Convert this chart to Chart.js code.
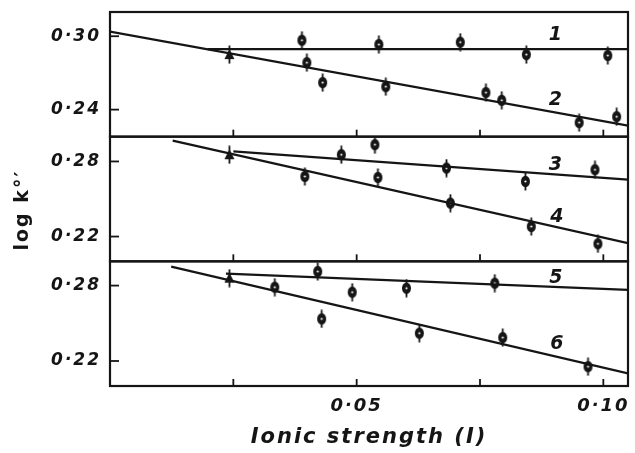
<!DOCTYPE html>
<html><head><meta charset="utf-8">
<script src="https://cdn.jsdelivr.net/npm/chart.js@4/dist/chart.umd.min.js"></script>
<style>html,body{margin:0;padding:0;background:#fff}#wrap{width:635px;height:453px;position:relative}</style>
</head><body><div id="wrap"><canvas id="c"></canvas></div>
<script>
// ---- data ----
const xTicks = [0.025, 0.05, 0.075, 0.10];
const xTickLabels = ['', '0·05', '', '0·10'];
const yTopTicks = [0.30, 0.24];
const yMidTicks = [0.28, 0.22];
const yBotTicks = [0.28, 0.22];

// common lowest-ionic-strength point (triangle) in each panel
const triTop = {x: 0.0242, y: 0.2850};
const triMid = {x: 0.0242, y: 0.2854};
const triBot = {x: 0.0242, y: 0.2859};

const s1X = [0.0389, 0.0545, 0.0710, 0.0844, 0.1009];
const s1Y = [0.2967, 0.2932, 0.2951, 0.2850, 0.2842];
const s2X = [0.0399, 0.0431, 0.0559, 0.0762, 0.0794, 0.0951, 0.1027];
const s2Y = [0.2784, 0.2621, 0.2588, 0.2539, 0.2476, 0.2294, 0.2342];
const s3X = [0.0469, 0.0537, 0.0682, 0.0842, 0.0983];
const s3Y = [0.2854, 0.2934, 0.2747, 0.2640, 0.2734];
const s4X = [0.0395, 0.0543, 0.0690, 0.0854, 0.0989];
const s4Y = [0.2680, 0.2672, 0.2467, 0.2280, 0.2142];
const s5X = [0.0421, 0.0491, 0.0601, 0.0780];
const s5Y = [0.2912, 0.2747, 0.2779, 0.2819];
const s6X = [0.0334, 0.0429, 0.0627, 0.0796, 0.0969];
const s6Y = [0.2787, 0.2535, 0.2421, 0.2386, 0.2155];

// fitted straight lines (end points)
const fit1X = [0.0198, 0.105], fit1Y = [0.2895, 0.2895];
const fit2X = [0.0, 0.105],    fit2Y = [0.3038, 0.2269];
const fit3X = [0.025, 0.105],  fit3Y = [0.2880, 0.2654];
const fit4X = [0.0127, 0.105], fit4Y = [0.2966, 0.2147];
const fit5X = [0.0235, 0.105], fit5Y = [0.2895, 0.2766];
const fit6X = [0.0124, 0.105], fit6Y = [0.2951, 0.2102];

// curve numbers
const curveNames = ['1', '2', '3', '4', '5', '6'];
const curveNameX = [0.0905, 0.0905, 0.0905, 0.0908, 0.0906, 0.0908];
const curveNameY = [0.3012, 0.2482, 0.2774, 0.2352, 0.2862, 0.2337];
const curveAxis = ['yTop', 'yTop', 'yMid', 'yMid', 'yBot', 'yBot'];

const yTitle = 'log k°′';
const xTitle = 'Ionic strength (I)';

// ---- build ----
const INK = '#151515';
const FONT = "'DejaVu Sans', sans-serif";
const SPACING = '2px';
const pts = (xs, ys) => xs.map((x, i) => ({x, y: ys[i]}));

function glyph(kind) {
  const c = document.createElement('canvas');
  c.width = 11; c.height = 19;
  const g = c.getContext('2d');
  g.fillStyle = INK; g.strokeStyle = INK; g.lineWidth = 1.8;
  g.beginPath(); g.moveTo(5.5, 0.5); g.lineTo(5.5, 18.5); g.stroke();
  if (kind === 'tri') {
    g.beginPath(); g.moveTo(5.5, 4); g.lineTo(10.5, 14); g.lineTo(0.5, 14); g.closePath(); g.fill();
  } else {
    g.beginPath(); g.ellipse(5.5, 9.5, 4.5, 5.8, 0, 0, Math.PI * 2); g.fill();
    g.fillStyle = '#fff'; g.beginPath(); g.arc(5.5, 9.5, 1.1, 0, Math.PI * 2); g.fill();
  }
  return c;
}
const dot = glyph('dot'), tri = glyph('tri');

const pointSet = (data, axis, img) => ({data, yAxisID: axis, showLine: false, pointStyle: img, pointRadius: 6, pointHoverRadius: 6, borderColor: INK, backgroundColor: INK});
const lineSet = (data, axis) => ({data, yAxisID: axis, showLine: true, pointRadius: 0, borderColor: INK, borderWidth: 2.2, fill: false});

const datasets = [
  lineSet(pts(fit1X, fit1Y), 'yTop'), lineSet(pts(fit2X, fit2Y), 'yTop'),
  lineSet(pts(fit3X, fit3Y), 'yMid'), lineSet(pts(fit4X, fit4Y), 'yMid'),
  lineSet(pts(fit5X, fit5Y), 'yBot'), lineSet(pts(fit6X, fit6Y), 'yBot'),
  pointSet(pts(s1X, s1Y), 'yTop', dot), pointSet(pts(s2X, s2Y), 'yTop', dot),
  pointSet(pts(s3X, s3Y), 'yMid', dot), pointSet(pts(s4X, s4Y), 'yMid', dot),
  pointSet(pts(s5X, s5Y), 'yBot', dot), pointSet(pts(s6X, s6Y), 'yBot', dot),
  pointSet([triTop], 'yTop', tri), pointSet([triMid], 'yMid', tri), pointSet([triBot], 'yBot', tri)
];

const yTickFont = {family: FONT, size: 17, weight: 'bold', style: 'italic'};
const xTickFont = {family: FONT, size: 18, weight: 'bold', style: 'italic'};
const fmt = v => v.toFixed(2).replace('.', '·');

function yScale(min, max, ticks, weight) {
  return {
    type: 'linear', position: 'left', stack: 'panels', stackWeight: 1, weight,
    min, max,
    afterBuildTicks: s => { s.ticks = ticks.map(v => ({value: v})); },
    afterFit: s => { s.width = 110; s.paddingTop = 0; s.paddingBottom = 0; },
    grid: {display: false, drawTicks: false},
    border: {display: false},
    ticks: {callback: v => fmt(v), color: INK, font: yTickFont, padding: 9}
  };
}

const spacingPlugin = {
  id: 'spacing',
  beforeLayout(chart) { chart.ctx.letterSpacing = SPACING; },
  beforeDraw(chart) { chart.ctx.letterSpacing = SPACING; }
};

const framePlugin = {
  id: 'frame',
  afterDatasetsDraw(chart) {
    const {ctx, chartArea: a, scales} = chart;
    const xs = scales.x;
    ctx.save();
    ctx.strokeStyle = INK; ctx.lineCap = 'butt';
    ['yTop', 'yMid', 'yBot'].forEach(id => {
      const s = scales[id];
      ctx.lineWidth = 2.2;
      ctx.strokeRect(a.left, s.top, a.right - a.left, s.bottom - s.top);
      ctx.lineWidth = 1.8;
      s.ticks.forEach(t => {
        const y = s.getPixelForValue(t.value);
        ctx.beginPath(); ctx.moveTo(a.left, y); ctx.lineTo(a.left + 9, y); ctx.stroke();
      });
      xTicks.forEach(v => {
        const x = xs.getPixelForValue(v);
        ctx.beginPath(); ctx.moveTo(x, s.bottom); ctx.lineTo(x, s.bottom - 7); ctx.stroke();
      });
    });
    ctx.fillStyle = INK;
    ctx.font = `italic bold 19px ${FONT}`;
    ctx.textAlign = 'center'; ctx.textBaseline = 'middle';
    curveNames.forEach((n, i) => {
      ctx.fillText(n, xs.getPixelForValue(curveNameX[i]), scales[curveAxis[i]].getPixelForValue(curveNameY[i]));
    });
    // y-axis title beside the middle panel (slightly below its centre, as in the figure)
    const m = scales.yMid;
    ctx.translate(23, (m.top + m.bottom) / 2 + 11);
    ctx.rotate(-Math.PI / 2);
    ctx.font = `bold 19px ${FONT}`;
    ctx.fillText(yTitle, 0, 0);
    ctx.restore();
  }
};

new Chart(document.getElementById('c'), {
  type: 'scatter',
  data: {datasets},
  options: {
    responsive: true, maintainAspectRatio: false, animation: false,
    layout: {padding: {left: 0, right: 3, top: 12, bottom: 0}},
    plugins: {legend: {display: false}, tooltip: {enabled: false}},
    scales: {
      x: {
        type: 'linear', position: 'bottom', min: 0, max: 0.105,
        afterBuildTicks: s => { s.ticks = xTicks.map(v => ({value: v})); },
        afterFit: s => { s.height = 67; s.paddingLeft = 0; s.paddingRight = 0; },
        grid: {display: false, drawTicks: false},
        border: {display: false},
        ticks: {callback: (v, i) => xTickLabels[i], color: INK, font: xTickFont, padding: 10, maxRotation: 0, autoSkip: false},
        title: {display: true, text: xTitle, color: INK, font: {family: FONT, size: 21, weight: 'bold', style: 'italic'}, padding: {top: 0, bottom: 3}}
      },
      yBot: yScale(0.2001, 0.2993, yBotTicks, 1),
      yMid: yScale(0.2002, 0.2998, yMidTicks, 2),
      yTop: yScale(0.2179, 0.3198, yTopTicks, 3)
    }
  },
  plugins: [spacingPlugin, framePlugin]
});
</script>
</body></html>
